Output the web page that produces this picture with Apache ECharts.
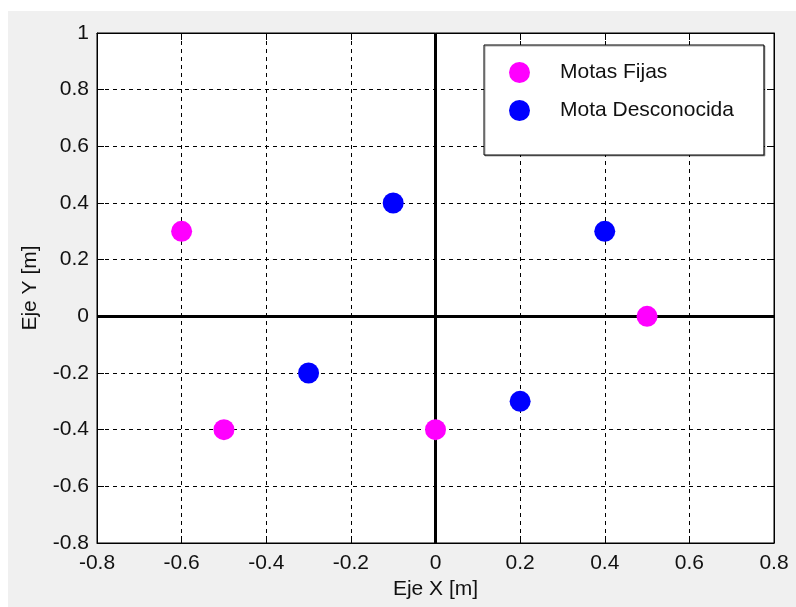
<!DOCTYPE html>
<html>
<head>
<meta charset="utf-8">
<script src="https://cdn.jsdelivr.net/npm/echarts@6/dist/echarts.min.js"></script>
<style>
  html, body { margin: 0; padding: 0; background: #ffffff; }
  #wrap { position: relative; width: 796px; height: 607px; background: #ffffff; }
  #panel { position: absolute; left: 8px; top: 11px; right: 0; bottom: 0; background: #f0f0f0; }
  #chart { position: absolute; left: 0; top: 0; width: 796px; height: 607px; }
</style>
</head>
<body>
<div id="wrap">
  <div id="panel"></div>
  <div id="chart"></div>
</div>
<script>
// Fixed motes (magenta) and unknown motes (blue), positions in metres
const fixedMotes = [[-0.6, 0.3], [-0.5, -0.4], [0, -0.4], [0.5, 0]];
const unknownMotes = [[-0.1, 0.4], [0.4, 0.3], [-0.3, -0.2], [0.2, -0.3]];

const seriesNames = ['Motas Fijas', 'Mota Desconocida'];
const xRange = [-0.8, 0.8];
const yRange = [-0.8, 1];
const tickStep = 0.2;
const xName = 'Eje X [m]';
const yName = 'Eje Y [m]';

const FONT = 'Liberation Sans, Arial, sans-serif';
const TXT = '#111111';

const chart = echarts.init(document.getElementById('chart'), null, { renderer: 'canvas' });

const fmt = v => {
  const r = Math.round(v * 10) / 10;
  return r === 0 ? '0' : String(r);
};

const gridLines = { show: true, lineStyle: { color: '#000', width: 1, type: [4, 4] } };
const inTicks = { show: true, inside: true, length: 7, lineStyle: { color: '#000', width: 1 } };
const frameLine = { show: true, onZero: false, lineStyle: { color: '#000', width: 1 } };

chart.setOption({
  backgroundColor: 'transparent',
  animation: false,
  grid: {
    left: 97, top: 33, right: 22, bottom: 64,
    show: true, backgroundColor: '#ffffff', borderColor: '#000', borderWidth: 1,
    containLabel: false
  },
  legend: {
    orient: 'vertical',
    left: 484, top: 45,
    padding: [17, 30, 34, 25],
    itemWidth: 21, itemHeight: 21, itemGap: 17,
    backgroundColor: '#ffffff', borderColor: '#000', borderWidth: 1,
    shadowColor: 'rgba(0,0,0,0.35)', shadowOffsetX: 1, shadowOffsetY: 1, shadowBlur: 0,
    icon: 'circle',
    textStyle: { fontFamily: FONT, fontSize: 21, color: TXT, padding: [0, 0, 0, 25], lineHeight: 21 },
    data: seriesNames
  },
  xAxis: [{
    type: 'value', min: xRange[0], max: xRange[1], interval: tickStep,
    name: xName, nameLocation: 'middle', nameGap: 36,
    nameTextStyle: { fontFamily: FONT, fontSize: 21, color: TXT },
    axisLine: frameLine,
    axisTick: inTicks,
    axisLabel: { fontFamily: FONT, fontSize: 21, color: TXT, margin: 10, formatter: fmt },
    splitLine: gridLines
  }, {
    type: 'value', position: 'top', min: xRange[0], max: xRange[1], interval: tickStep,
    axisLine: frameLine, axisTick: inTicks, axisLabel: { show: false }, splitLine: { show: false }
  }],
  yAxis: [{
    type: 'value', min: yRange[0], max: yRange[1], interval: tickStep,
    name: yName, nameLocation: 'middle', nameGap: 56,
    nameTextStyle: { fontFamily: FONT, fontSize: 21, color: TXT },
    axisLine: frameLine,
    axisTick: inTicks,
    axisLabel: { fontFamily: FONT, fontSize: 21, color: TXT, margin: 8, formatter: fmt },
    splitLine: gridLines
  }, {
    type: 'value', position: 'right', min: yRange[0], max: yRange[1], interval: tickStep,
    axisLine: frameLine, axisTick: inTicks, axisLabel: { show: false }, splitLine: { show: false }
  }],
  series: [{
    name: seriesNames[0], type: 'scatter', data: fixedMotes,
    symbol: 'circle', symbolSize: 21,
    itemStyle: { color: '#ff00ff', opacity: 1 }, z: 5,
    markLine: {
      silent: true, symbol: 'none', label: { show: false },
      lineStyle: { color: '#000', width: 3, type: 'solid' },
      data: [{ xAxis: 0 }, { yAxis: 0 }],
      z: 3
    }
  }, {
    name: seriesNames[1], type: 'scatter', data: unknownMotes,
    symbol: 'circle', symbolSize: 21,
    itemStyle: { color: '#0000ff', opacity: 1 }, z: 5
  }]
});
</script>
</body>
</html>
